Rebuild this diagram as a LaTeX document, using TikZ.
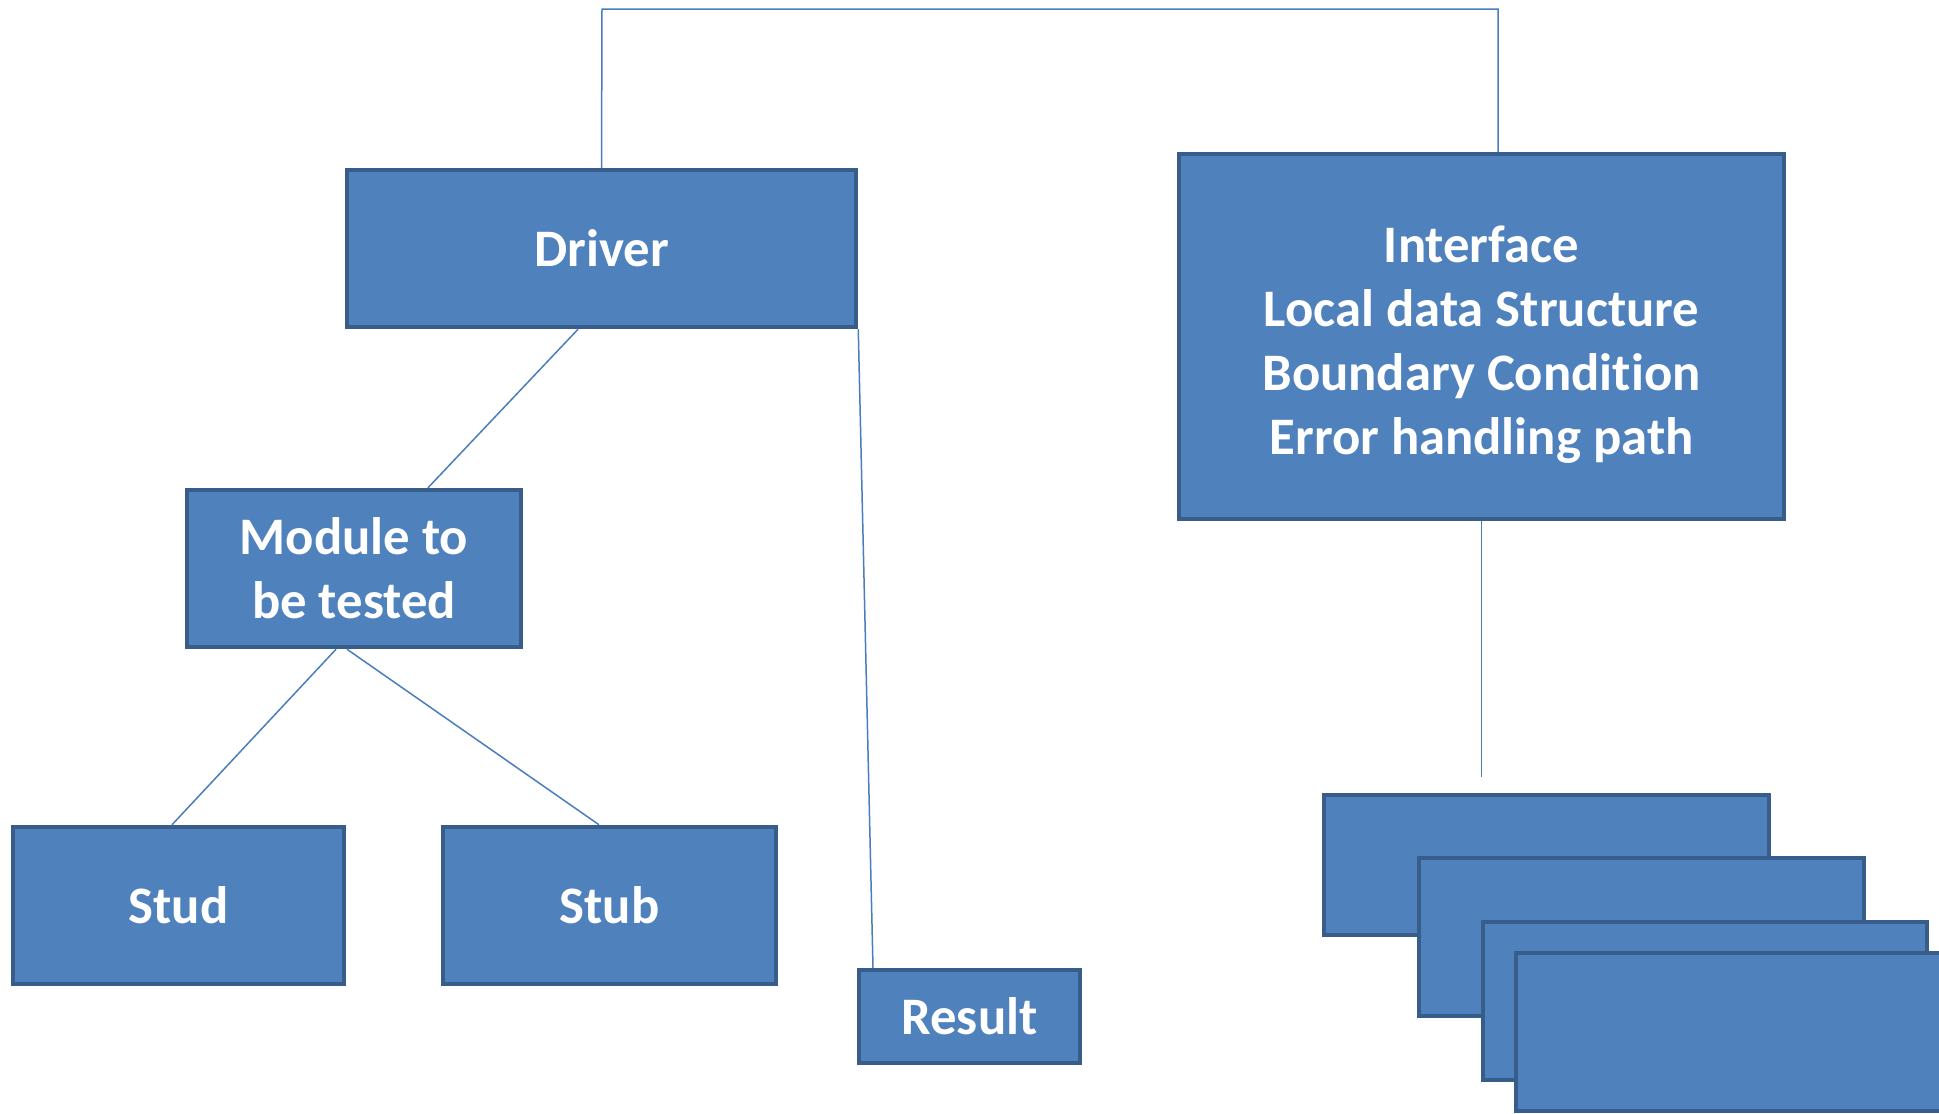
\documentclass[tikz,border=0pt]{standalone}
\usepackage{fontspec}
\setmainfont{Carlito}[Ligatures=NoCommon]
\definecolor{boxfill}{HTML}{4F81BD}
\definecolor{boxline}{HTML}{385D8A}
\definecolor{conn}{HTML}{4A7EBB}
\begin{document}
\begin{tikzpicture}[x=1pt,y=-1pt,
  box/.style={draw=boxline, fill=boxfill, line width=4.5pt, inner sep=0pt,
    text=white, align=center, font=\bfseries\fontsize{52.7}{64}\selectfont},
  conline/.style={draw=conn, line width=1.5pt}]
\clip (0,0) rectangle (1939,1114);
\fill[white] (0,0) rectangle (1939,1114);
% main nodes
\node[box, minimum width=509, minimum height=157] (driver) at (601.5,248.5) {Driver};
\node[box, minimum width=605, minimum height=365] (iface) at (1481.5,336.5)
  {\rule{0pt}{0pt}\\[-12pt]Interface\\Local data Structure\\Boundary Condition\\Error handling path};
\node[box, minimum width=334, minimum height=157] (module) at (354,568.5) {Module to\\be tested};
\node[box, minimum width=331, minimum height=157] (stud) at (178.5,905.5) {Stud};
\node[box, minimum width=333, minimum height=157] (stub) at (609.5,905.5) {Stub};
\node[box, minimum width=221, minimum height=93] (result) at (969.5,1016.5) {Result};
% stacked boxes
\node[box, minimum width=445, minimum height=140] (s1) at (1546.5,865) {};
\node[box, minimum width=445, minimum height=158] (s2) at (1641.5,937) {};
\node[box, minimum width=444, minimum height=158] (s3) at (1705,1001) {};
\node[box, minimum width=445, minimum height=158] (s4) at (1738.5,1032) {};
% connectors
\coordinate (top1) at (602,9);
\coordinate (top2) at (1498,9);
\coordinate (ifacetop) at (1498,152);
\coordinate (ifaceend) at (1481.5,777);
\path[conline] (driver.north) -- (top1) -- (top2) -- (ifacetop);
\path[conline] ([xshift=-23.5pt]driver.south) -- ([xshift=74pt]module.north);
\path[conline] (driver.south east) -- ([xshift=-96.5pt]result.north);
\path[conline] ([xshift=-18pt]module.south) -- ([xshift=-6.5pt]stud.north);
\path[conline] ([xshift=-7pt]module.south) -- ([xshift=-10.5pt]stub.north);
\path[conline] (iface.south) -- (ifaceend);
\end{tikzpicture}
\end{document}
